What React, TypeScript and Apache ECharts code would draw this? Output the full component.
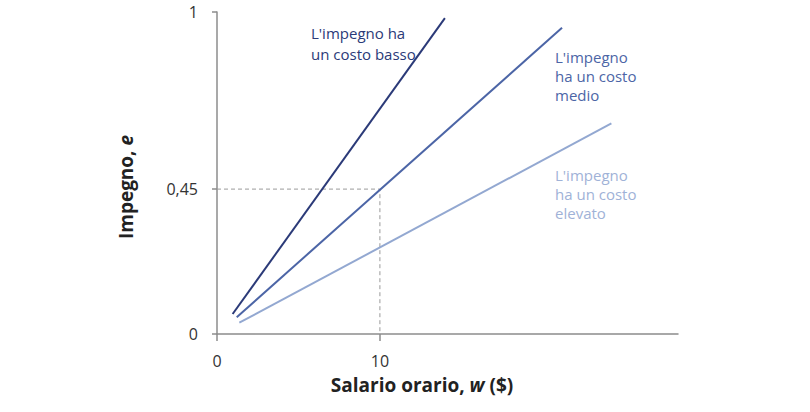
import { useEffect, useRef } from 'react';
import * as echarts from 'echarts';

// Lines: effort e against hourly wage w, one per cost of effort
const lowCostX = [0.96, 13.99];
const lowCostY = [0.062, 0.981];
const midCostX = [1.21, 21.18];
const midCostY = [0.052, 0.951];
const highCostX = [1.37, 24.21];
const highCostY = [0.035, 0.654];

// Dashed guide at w = 10, e = 0,45
const guideX = [0, 10, 10];
const guideY = [0.45, 0.45, 0];

const xTicks = [0, 10];
const yTicks = [0, 0.45, 1];
const xMax = 28.3;

const labelLow = "L'impegno ha\nun costo basso";
const labelMid = "L'impegno\nha un costo\nmedio";
const labelHigh = "L'impegno\nha un costo\nelevato";

const FONT = '"Open Sans", "Noto Sans", sans-serif';
const AXIS_GRAY = '#8c8c8c';

const toPairs = (xs: number[], ys: number[]) => xs.map((x, i) => [x, ys[i]]);

export default function App() {
  const chartRef = useRef<HTMLDivElement>(null);

  useEffect(() => {
    if (!chartRef.current) return;
    const chart = echarts.init(chartRef.current, undefined, { renderer: 'svg' });

    const lineSeries = (name: string, data: number[][], color: string) => ({
      name,
      type: 'line' as const,
      data,
      showSymbol: false,
      symbol: 'none',
      lineStyle: { color, width: 2 },
      z: 3,
    });

    const nameStyle = {
      align: 'center' as const,
      verticalAlign: 'middle' as const,
      fill: '#222',
      fontSize: 19,
      fontWeight: 'bold' as const,
      fontFamily: FONT,
      rich: { i: { fontStyle: 'italic' as const, fontWeight: 'bold' as const, fontSize: 19, fontFamily: FONT, fill: '#222' } },
    };

    const option: echarts.EChartsOption = {
      animation: false,
      grid: { left: 217, right: 132, top: 12, bottom: 78 },
      xAxis: {
        type: 'value',
        min: 0,
        max: xMax,
        splitLine: { show: false },
        axisLine: { lineStyle: { color: AXIS_GRAY, width: 1.5 } },
        axisTick: {
          show: true,
          length: 7,
          customValues: xTicks,
          lineStyle: { color: AXIS_GRAY, width: 1.5 },
        },
        axisLabel: {
          customValues: xTicks,
          margin: 19,
          color: '#333',
          fontSize: 16,
          fontFamily: FONT,
        },
      },
      yAxis: {
        type: 'value',
        min: 0,
        max: 1,
        splitLine: { show: false },
        axisLine: { show: true, lineStyle: { color: AXIS_GRAY, width: 1.5 } },
        axisTick: {
          show: true,
          length: 5,
          customValues: yTicks,
          lineStyle: { color: AXIS_GRAY, width: 1.5 },
        },
        axisLabel: {
          customValues: yTicks,
          margin: 19,
          color: '#333',
          fontSize: 16,
          fontFamily: FONT,
          formatter: (v: number) => String(v).replace('.', ','),
        },
      },
      series: [
        {
          name: 'guida',
          type: 'line',
          data: toPairs(guideX, guideY),
          showSymbol: false,
          symbol: 'none',
          lineStyle: { color: '#9a9a9a', width: 1, type: [4, 3] },
          z: 2,
        },
        lineSeries('basso', toPairs(lowCostX, lowCostY), '#2b3a78'),
        lineSeries('medio', toPairs(midCostX, midCostY), '#4c65a6'),
        lineSeries('elevato', toPairs(highCostX, highCostY), '#93a8d1'),
      ],
      graphic: [
        {
          type: 'text',
          left: 311,
          top: 22,
          style: { text: labelLow, fill: '#2b3a78', fontSize: 15, lineHeight: 21, fontFamily: FONT },
        },
        {
          type: 'text',
          left: 555,
          top: 47,
          style: { text: labelMid, fill: '#4c65a6', fontSize: 15, lineHeight: 19, fontFamily: FONT },
        },
        {
          type: 'text',
          left: 555,
          top: 165,
          style: { text: labelHigh, fill: '#9fb2d7', fontSize: 15, lineHeight: 19, fontFamily: FONT },
        },
        {
          type: 'text',
          x: 126,
          y: 187,
          rotation: Math.PI / 2,
          style: { ...nameStyle, text: 'Impegno, {i|e}' },
        },
        {
          type: 'text',
          x: 422,
          y: 385,
          style: { ...nameStyle, text: 'Salario orario, {i|w} ($)' },
        },
      ],
    };

    chart.setOption(option);

    return () => {
      chart.dispose();
    };
  }, []);

  return (
    <div
      ref={chartRef}
      style={{ position: 'fixed', left: 0, top: 0, width: '810px', height: '412px', background: '#fff' }}
    />
  );
}
